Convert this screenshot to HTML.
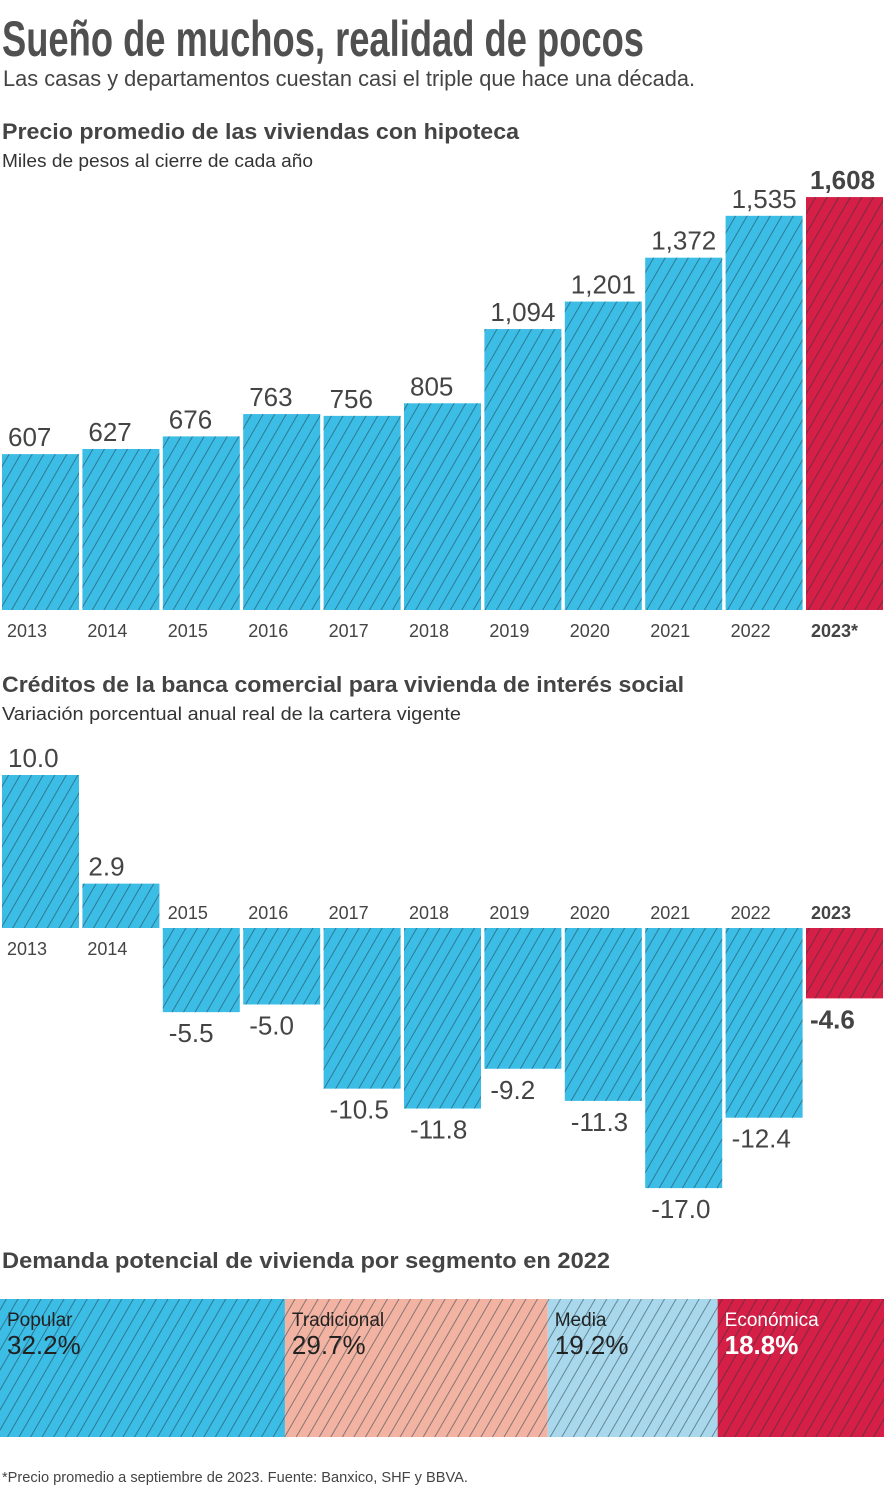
<!DOCTYPE html>
<html><head><meta charset="utf-8"><style>
body{margin:0;background:#fff;}
svg{display:block;font-family:"Liberation Sans",sans-serif;}
</style></head><body>
<svg id="s" width="884" height="1494" viewBox="0 0 884 1494">
<defs>
<pattern id="h" width="10" height="10" patternUnits="userSpaceOnUse" patternTransform="rotate(30)">
<line x1="5" y1="0" x2="5" y2="10" stroke="#1d3540" stroke-opacity="0.5" stroke-width="1"/>
</pattern>
</defs>
<text x="2" y="56" font-family="'Liberation Sans Narrow','Liberation Sans',sans-serif" font-size="50" font-weight="bold" fill="#505050" textLength="642" lengthAdjust="spacingAndGlyphs">Sueño de muchos, realidad de pocos</text>
<text x="3" y="86" font-size="22" fill="#444" textLength="692" lengthAdjust="spacingAndGlyphs">Las casas y departamentos cuestan casi el triple que hace una década.</text>
<text x="2" y="139" font-size="22" font-weight="bold" fill="#444" textLength="517" lengthAdjust="spacingAndGlyphs">Precio promedio de las viviendas con hipoteca</text>
<text x="2" y="167" font-size="18" fill="#333" textLength="311" lengthAdjust="spacingAndGlyphs">Miles de pesos al cierre de cada año</text>
<text x="2" y="692" font-size="22" font-weight="bold" fill="#444" textLength="682" lengthAdjust="spacingAndGlyphs">Créditos de la banca comercial para vivienda de interés social</text>
<text x="2" y="720" font-size="18" fill="#333" textLength="459" lengthAdjust="spacingAndGlyphs">Variación porcentual anual real de la cartera vigente</text>
<text x="2" y="1268" font-size="22" font-weight="bold" fill="#444" textLength="608" lengthAdjust="spacingAndGlyphs">Demanda potencial de vivienda por segmento en 2022</text>
<text x="2" y="1482" font-family="'Liberation Sans Narrow','Liberation Sans',sans-serif" font-size="15" fill="#444" textLength="466" lengthAdjust="spacingAndGlyphs">*Precio promedio a septiembre de 2023. Fuente: Banxico, SHF y BBVA.</text>
<g id="c1"></g><g id="c2"></g><g id="c3"></g>
</svg>
<script>
const years = ["2013","2014","2015","2016","2017","2018","2019","2020","2021","2022","2023"];
const prices = [607,627,676,763,756,805,1094,1201,1372,1535,1608];
const priceLabels = ["607","627","676","763","756","805","1,094","1,201","1,372","1,535","1,608"];
const credits = [10.0,2.9,-5.5,-5.0,-10.5,-11.8,-9.2,-11.3,-17.0,-12.4,-4.6];
const creditLabels = ["10.0","2.9","-5.5","-5.0","-10.5","-11.8","-9.2","-11.3","-17.0","-12.4","-4.6"];
const segments = ["Popular","Tradicional","Media","Económica"];
const segmentValues = [32.2,29.7,19.2,18.8];
const segmentLabels = ["32.2%","29.7%","19.2%","18.8%"];

const NS="http://www.w3.org/2000/svg";
const BLUE="#3cbde6", RED="#d51f46";
function mk(tag,attrs,parent,txt){const e=document.createElementNS(NS,tag);for(const k in attrs)e.setAttribute(k,attrs[k]);if(txt!==undefined)e.textContent=txt;parent.appendChild(e);return e;}
const xBand=i=>2+i*80.4, bw=77;

// chart 1
const c1=document.getElementById('c1');
const base1=610, y1=v=>base1-v*0.2568;
prices.forEach((v,i)=>{
  const last=i===years.length-1, x=xBand(i), top=y1(v);
  let r=mk('rect',{x:x,y:top,width:bw,height:base1-top,fill:last?RED:BLUE},c1);
  
  
  mk('rect',{x:x,y:top,width:bw,height:base1-top,fill:'url(#h)'},c1);
  let t=mk('text',{x:x+(last?4:6),y:top-8,'font-size':26,fill:'#444','font-weight':last?'bold':'normal'},c1,priceLabels[i]);
  
  
  let yl=mk('text',{x:x+5,y:637,'font-size':18,fill:'#444','font-weight':last?'bold':'normal'},c1,years[i]+(last?'*':''));
  
  
});

// chart 2
const c2=document.getElementById('c2');
const zero=928, y2=v=>zero-v*15.3;
credits.forEach((v,i)=>{
  const last=i===years.length-1, x=xBand(i), yv=y2(v);
  const top=Math.min(yv,zero), h=Math.abs(yv-zero);
  let r=mk('rect',{x:x,y:top,width:bw,height:h,fill:last?RED:BLUE},c2);
  
  
  mk('rect',{x:x,y:top,width:bw,height:h,fill:'url(#h)'},c2);
  const pos=v>=0;
  let t=mk('text',{x:x+(last?4:6),y:pos?yv-8:yv+30,'font-size':26,fill:'#444','font-weight':last?'bold':'normal'},c2,creditLabels[i]);
  
  
  let yl=mk('text',{x:x+5,y:pos?zero+27:zero-9,'font-size':18,fill:'#444','font-weight':last?'bold':'normal'},c2,years[i]);
  
  
});

// chart 3
const c3=document.getElementById('c3');
const segColors=["#3cbde6","#f2b3a3","#a9d8ec","#d51f46"];
const total=segmentValues.reduce((a,b)=>a+b,0);
let cx=0;
segmentValues.forEach((v,i)=>{
  const w=v/total*884;
  let r=mk('rect',{x:cx,y:1299,width:w,height:138,fill:segColors[i]},c3);
  
  
  mk('rect',{x:cx,y:1299,width:w,height:138,fill:'url(#h)'},c3);
  const col=i===3?'#fff':'#222';
  let a=mk('text',{x:cx+7,y:1326,'font-size':19,fill:col,'font-family':"'Liberation Sans Narrow','Liberation Sans',sans-serif"},c3,segments[i]);
  
  
  let b=mk('text',{x:cx+7,y:1354,'font-size':26,fill:col,'font-weight':i===3?'bold':'normal','font-family':"'Liberation Sans Narrow','Liberation Sans',sans-serif"},c3,segmentLabels[i]);
  
  
  cx+=w;
});
</script>
</body></html>
